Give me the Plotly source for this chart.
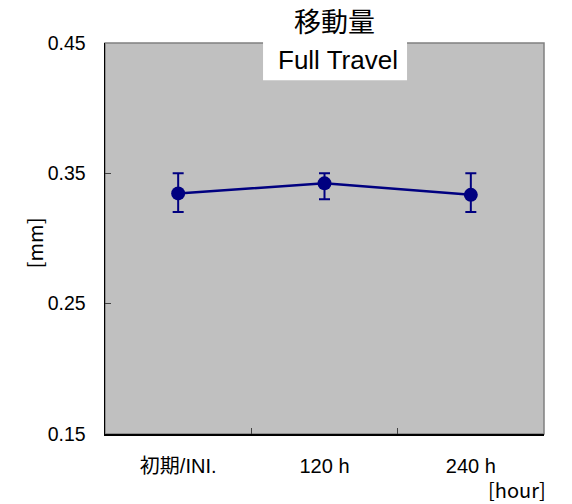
import plotly.graph_objects as go

categories = ["初期/INI.", "120 h", "240 h"]
mean_mm = [0.3346, 0.3423, 0.3335]
err_plus = [0.0154, 0.0077, 0.0165]
err_minus = [0.0143, 0.0121, 0.0132]
y_ticks = [0.15, 0.25, 0.35, 0.45]
y_tick_labels = ["0.15", "0.25", "0.35", "0.45"]

NAVY = "#000080"
FONT = "Liberation Sans, Arial, Noto Sans CJK JP, sans-serif"
CJK = "Noto Sans CJK JP, sans-serif"

fig = go.Figure()
fig.add_trace(go.Scatter(
    x=categories, y=mean_mm, mode="lines+markers",
    line=dict(color=NAVY, width=2.5),
    marker=dict(color=NAVY, size=14, symbol="circle"),
    error_y=dict(type="data", symmetric=False, array=err_plus, arrayminus=err_minus,
                 color=NAVY, thickness=2, width=5.5),
    showlegend=False, hoverinfo="skip",
))

fig.update_layout(
    width=572, height=504,
    margin=dict(l=105, r=28, t=43, b=70),
    paper_bgcolor="white", plot_bgcolor="#C0C0C0",
    font=dict(family=FONT, size=19, color="black"),
    xaxis=dict(type="category", range=[-0.5, 2.5], tickson="boundaries",
               ticks="inside", ticklen=6, tickcolor="#404040", tickwidth=1,
               showgrid=False, zeroline=False,
               showline=True, linecolor="black", linewidth=1.5,
               tickfont=dict(family=FONT, size=20), ticklabelstandoff=13),
    yaxis=dict(range=[0.15, 0.45], tickvals=y_ticks, ticktext=y_tick_labels,
               ticks="inside", ticklen=6, tickcolor="#404040", tickwidth=1,
               showgrid=False, zeroline=False,
               showline=True, linecolor="black", linewidth=1.5,
               tickfont=dict(size=19.5), ticklabelstandoff=14),
    shapes=[
        dict(type="rect", xref="paper", yref="paper", x0=0, x1=1, y0=0, y1=1,
             line=dict(color="#808080", width=1.5), fillcolor="rgba(0,0,0,0)", layer="below"),
        dict(type="rect", xref="paper", yref="paper", x0=0.36, x1=0.688, y0=0.905, y1=1.003,
             line=dict(width=0), fillcolor="white", layer="above"),
    ],
    annotations=[
        dict(text="移動量", xref="paper", yref="paper", x=0.522, y=1.0575,
             xanchor="center", yanchor="middle", showarrow=False,
             font=dict(family=CJK, size=27, color="black")),
        dict(text="Full Travel", xref="paper", yref="paper", x=0.531, y=0.957,
             xanchor="center", yanchor="middle", showarrow=False,
             font=dict(size=26, color="black")),
        dict(text="[mm]", xref="paper", yref="paper", x=-0.16, y=0.49,
             xanchor="center", yanchor="middle", textangle=-90, showarrow=False,
             font=dict(family=CJK, size=20, color="black")),
        dict(text="[hour]", xref="paper", yref="paper", x=1.008, y=-0.141,
             xanchor="right", yanchor="middle", showarrow=False,
             font=dict(family=CJK, size=20, color="black")),
    ],
)

fig.write_html("out.html", config={"displayModeBar": False, "staticPlot": True},
               post_script="document.body.style.margin='0';")
